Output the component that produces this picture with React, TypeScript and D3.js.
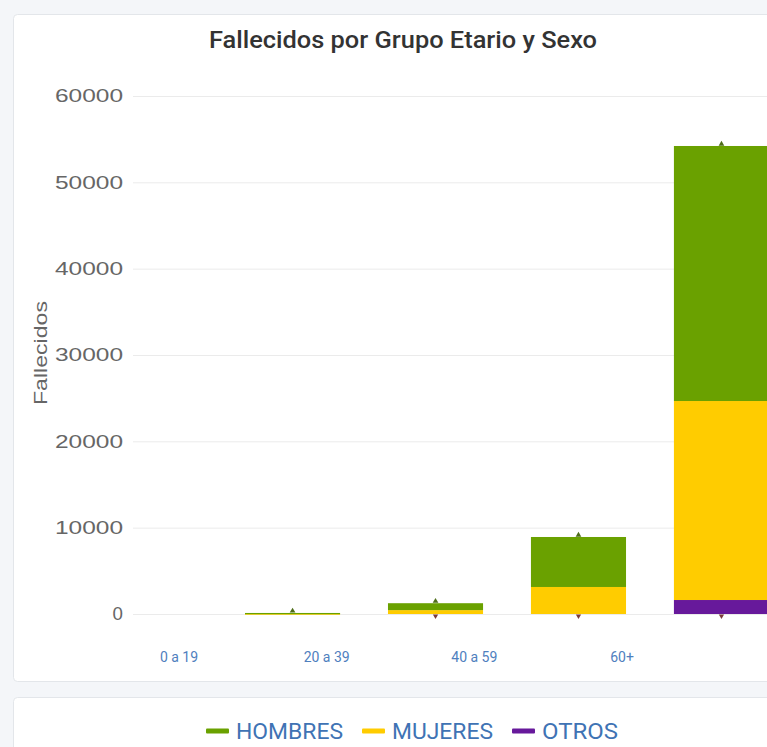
import React, { useRef, useEffect } from 'react';
import * as d3 from 'd3';

// Age groups and deaths by sex (stacked bottom -> top: OTROS, MUJERES, HOMBRES)
const grupos = ['0 a 19', '20 a 39', '40 a 59', '60+'];
const hombres = [70, 800, 5790, 29540];
const mujeres = [50, 450, 3130, 23050];
const otros = [0, 0, 0, 1620];
const yTicks = [0, 10000, 20000, 30000, 40000, 50000, 60000];

const series = [
  { name: 'HOMBRES', values: hombres, color: '#6aa100' },
  { name: 'MUJERES', values: mujeres, color: '#ffcc00' },
  { name: 'OTROS', values: otros, color: '#67199b' },
];

const App = () => {
  const svgRef = useRef<SVGSVGElement>(null);

  useEffect(() => {
    const svg = d3.select(svgRef.current);
    svg.selectAll('*').remove();

    const width = 767;
    const height = 747;
    const plotLeft = 133;
    const plotTop = 96;
    const plotBottom = 614;

    svg.attr('width', width).attr('height', height);

    // page + cards
    svg.append('rect').attr('width', width).attr('height', height).attr('fill', '#f4f6f9');
    svg.append('rect')
      .attr('x', 13.5).attr('y', 14.5).attr('width', 800).attr('height', 667)
      .attr('rx', 4).attr('fill', '#fff').attr('stroke', '#e3e6ea');
    svg.append('rect')
      .attr('x', 13.5).attr('y', 697.5).attr('width', 800).attr('height', 100)
      .attr('rx', 4).attr('fill', '#fff').attr('stroke', '#e3e6ea');

    // title
    svg.append('text')
      .attr('x', 403).attr('y', 48)
      .attr('text-anchor', 'middle')
      .attr('font-family', 'Roboto, sans-serif')
      .attr('font-size', 24)
      .attr('font-weight', 500)
      .attr('fill', '#333')
      .attr('textLength', 388)
      .attr('lengthAdjust', 'spacingAndGlyphs')
      .text('Fallecidos por Grupo Etario y Sexo');

    // scales
    const x = d3.scaleBand()
      .domain(grupos)
      .range([245, 769])
      .paddingInner(0.335)
      .paddingOuter(0);

    const y = d3.scaleLinear()
      .domain([0, 60000])
      .range([plotBottom, plotTop]);

    // x labels sit offset from the bars in the original
    const xl = d3.scalePoint()
      .domain(grupos)
      .range([179, 622]);

    // grid + y axis
    const gy = svg.append('g')
      .attr('transform', `translate(${plotLeft},0)`)
      .call(d3.axisLeft(y).tickValues(yTicks).tickSize(-700).tickPadding(10).tickFormat(d3.format('d')))
      .call(g => g.select('.domain').remove());
    gy.selectAll('.tick line').attr('stroke', '#ebebeb');
    gy.selectAll<SVGTextElement, number>('.tick text')
      .attr('font-family', '"Liberation Sans", Arial, sans-serif')
      .attr('font-size', 18)
      .attr('fill', '#666')
      .attr('textLength', d => String(d).length * 14.4 - 4)
      .attr('lengthAdjust', 'spacingAndGlyphs');

    svg.append('text')
      .attr('transform', 'translate(47,353) rotate(-90)')
      .attr('text-anchor', 'middle')
      .attr('font-family', '"Liberation Sans", Arial, sans-serif')
      .attr('font-size', 18)
      .attr('fill', '#666')
      .attr('textLength', 104)
      .attr('lengthAdjust', 'spacingAndGlyphs')
      .text('Fallecidos');

    // stacked bars
    const rows = grupos.map((g, i) => ({
      grupo: g,
      OTROS: otros[i],
      MUJERES: mujeres[i],
      HOMBRES: hombres[i],
    }));
    const stack = d3.stack<any>().keys(['OTROS', 'MUJERES', 'HOMBRES'])(rows);
    const colorOf = (k: string) => series.find(s => s.name === k)!.color;

    svg.append('g')
      .selectAll('g')
      .data(stack)
      .join('g')
      .attr('fill', d => colorOf(d.key))
      .selectAll('rect')
      .data(d => d)
      .join('rect')
      .attr('x', d => x(d.data.grupo)!)
      .attr('y', d => y(d[1]))
      .attr('width', x.bandwidth())
      .attr('height', d => Math.max(y(d[0]) - y(d[1]), d[1] > d[0] ? 1.2 : 0));

    // small markers at the bar tops and the baseline
    const tops = rows.map(r => ({ grupo: r.grupo, total: r.OTROS + r.MUJERES + r.HOMBRES }));
    svg.append('g')
      .selectAll('path')
      .data(tops)
      .join('path')
      .attr('d', d3.symbol(d3.symbolTriangle, 14))
      .attr('transform', d => `translate(${x(d.grupo)! + x.bandwidth() / 2},${y(d.total) - 2})`)
      .attr('fill', '#4f6e1a');
    svg.append('g')
      .selectAll('path')
      .data(tops.filter(d => d.total > 1000))
      .join('path')
      .attr('d', d3.symbol(d3.symbolTriangle, 12))
      .attr('transform', d => `translate(${x(d.grupo)! + x.bandwidth() / 2},${y(0) + 2}) rotate(180)`)
      .attr('fill', '#7a3b3b');

    // x labels
    svg.append('g')
      .selectAll('text')
      .data(grupos)
      .join('text')
      .attr('x', d => xl(d)!)
      .attr('y', 662)
      .attr('text-anchor', 'middle')
      .attr('font-family', 'Roboto, sans-serif')
      .attr('font-size', 14)
      .attr('fill', '#4f80be')
      .text(d => d);

    // legend
    const legend = svg.append('g').attr('transform', 'translate(206,731)');
    let lx = 0;
    series.forEach(s => {
      legend.append('rect')
        .attr('x', lx).attr('y', -2.5).attr('width', 23).attr('height', 5).attr('rx', 1)
        .attr('fill', s.color);
      const t = legend.append('text')
        .attr('x', lx + 30).attr('y', 0).attr('dy', '0.35em')
        .attr('font-family', 'Roboto, sans-serif')
        .attr('font-size', 22)
        .attr('fill', '#3f73b4')
        .attr('textLength', s.name === 'OTROS' ? 76 : s.name === 'HOMBRES' ? 107 : 101)
        .attr('lengthAdjust', 'spacingAndGlyphs')
        .text(s.name);
      lx += 30 + (t.node() as SVGTextElement).getComputedTextLength() + 19;
    });
  }, []);

  return <svg ref={svgRef} style={{ position: 'absolute', left: 0, top: 0 }}></svg>;
};

export default App;
